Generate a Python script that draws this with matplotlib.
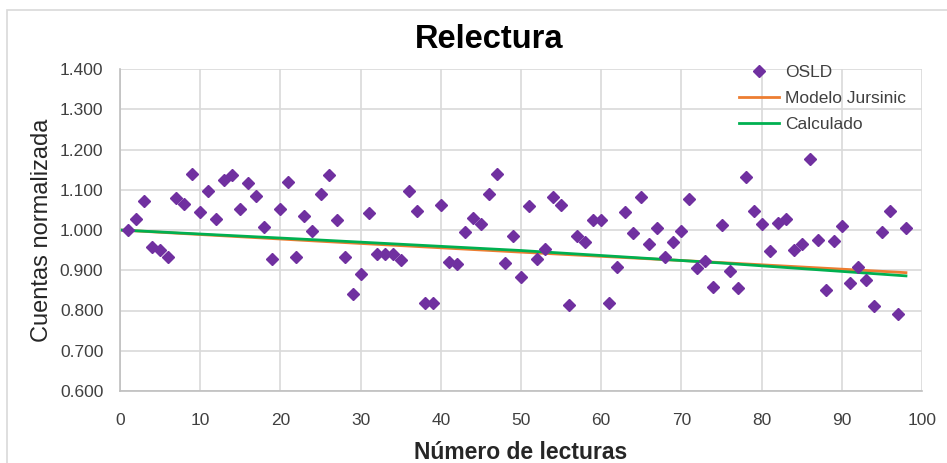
import matplotlib.pyplot as plt
from matplotlib.patches import Rectangle

# --- Data ---
lecturas = list(range(1, 99))
osld = [
    1.000, 1.027, 1.072, 0.958, 0.951, 0.934, 1.080, 1.065, 1.139, 1.044,
    1.096, 1.027, 1.123, 1.137, 1.051, 1.118, 1.085, 1.008, 0.927, 1.051,
    1.120, 0.932, 1.036, 0.997, 1.089, 1.137, 1.025, 0.932, 0.841, 0.891,
    1.041, 0.940, 0.940, 0.940, 0.925, 1.096, 1.048, 0.818, 0.818, 1.061,
    0.921, 0.916, 0.996, 1.029, 1.015, 1.089, 1.139, 0.918, 0.984, 0.882,
    1.060, 0.929, 0.954, 1.081, 1.061, 0.814, 0.985, 0.969, 1.025, 1.025,
    0.818, 0.908, 1.044, 0.993, 1.081, 0.964, 1.006, 0.932, 0.969, 0.997,
    1.077, 0.905, 0.922, 0.858, 1.012, 0.897, 0.855, 1.131, 1.046, 1.015,
    0.949, 1.017, 1.027, 0.951, 0.964, 1.176, 0.975, 0.850, 0.972, 1.009,
    0.868, 0.907, 0.877, 0.811, 0.996, 1.046, 0.792, 1.006,
]

modelo_x = [0, 25, 50, 75, 98]
modelo_jursinic = [1.000, 0.972, 0.945, 0.919, 0.894]
calculado_x = [0, 25, 50, 75, 98]
calculado = [1.000, 0.975, 0.949, 0.918, 0.886]

x_ticks = list(range(0, 101, 10))
y_ticks = [0.6, 0.7, 0.8, 0.9, 1.0, 1.1, 1.2, 1.3, 1.4]

plt.rcParams['font.family'] = ['Liberation Sans', 'DejaVu Sans']

fig = plt.figure(figsize=(9.47, 4.63), dpi=100)
fig.patches.append(Rectangle((7 / 947, -0.01), 1.0, 1.0 - 10 / 463 + 0.01,
                             transform=fig.transFigure, fill=False,
                             edgecolor='#d9d9d9', linewidth=1.2))

ax = fig.add_axes([120 / 947, 1 - 391 / 463, 802 / 947, 322 / 463])

ax.plot(lecturas, osld, linestyle='none', marker='D', markersize=6.5,
        color='#7030A0', label='OSLD', zorder=3)
ax.plot(modelo_x, modelo_jursinic, color='#ED7D31', linewidth=2.0,
        label='Modelo Jursinic', zorder=2)
ax.plot(calculado_x, calculado, color='#00B050', linewidth=2.0,
        label='Calculado', zorder=2)

ax.set_xlim(0, 100)
ax.set_ylim(0.6, 1.4)
ax.set_xticks(x_ticks)
ax.set_yticks(y_ticks)
ax.set_yticklabels([f"{v:.3f}" for v in y_ticks])
ax.tick_params(length=0, labelsize=12.5, colors='#404040')
ax.tick_params(axis='y', pad=12)
ax.tick_params(axis='x', pad=16)
ax.grid(True, color='#d9d9d9', linewidth=1.2)
ax.set_axisbelow(True)
for side in ['top', 'right']:
    ax.spines[side].set_visible(False)
for side in ['left', 'bottom']:
    ax.spines[side].set_color('#bfbfbf')
    ax.spines[side].set_linewidth(1.2)

ax.set_xlabel('Número de lecturas', fontsize=16.5, fontweight='bold',
              color='#262626', labelpad=9)
ax.set_ylabel('Cuentas normalizada', fontsize=17, color='#262626', labelpad=5)
fig.text(0.517, 0.915, 'Relectura', ha='center', va='center', fontsize=23.5,
         fontweight='bold', color='black')

ax.legend(loc='upper right', bbox_to_anchor=(0.993, 1.045), frameon=False,
          fontsize=12.5, handlelength=2.3, labelspacing=0.62,
          handletextpad=0.35, borderaxespad=0.2, labelcolor='#404040')

fig.savefig('out.png', dpi=100)
